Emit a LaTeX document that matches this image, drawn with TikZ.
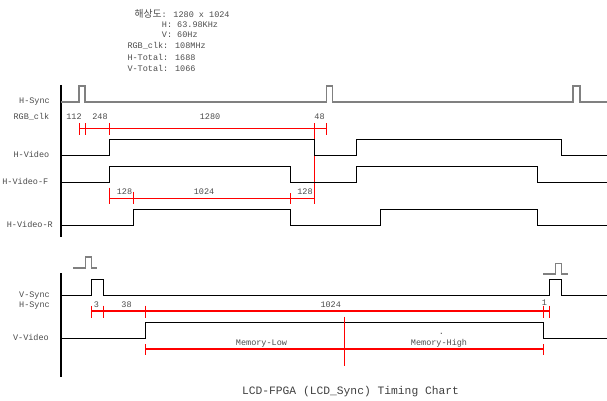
\documentclass[tikz,border=0pt]{standalone}
\usepackage{fontspec}
\newfontfamily\mono{Liberation Mono}
\newfontfamily\cjk{Noto Sans CJK KR}
\definecolor{mred}{RGB}{255,0,0}
\tikzset{
  sig/.style={line width=1pt, black},
  hsig/.style={line width=1.3pt, black!50},
  axis/.style={line width=1.4pt, black},
  meas/.style={color=mred, line width=1.1pt},
  lab/.style={font=\mono\fontsize{8.5}{10}\selectfont, text=black!70, inner sep=0pt},
  ttl/.style={font=\mono\fontsize{11.3}{13}\selectfont, text=black!75, inner sep=0pt}
}
\begin{document}
\begin{tikzpicture}[x=1pt,y=-1pt]
\useasboundingbox[fill=white] (0,0) rectangle (607,401);
% header
\node[lab,anchor=mid west] (hd1) at (134.3,15) {{\cjk\fontsize{9.8}{10}\selectfont 해상도}: 1280 x 1024};
\node[lab,anchor=mid west] (hd2) at (161.7,25) {H: 63.98KHz};
\node[lab,anchor=mid west] (hd3) at (161.7,35) {V: 60Hz};
\node[lab,anchor=mid west] (hd4) at (127.3,46.5) {RGB\_clk: 108MHz};
\node[lab,anchor=mid west] (hd5) at (127.3,58) {H-Total: 1688};
\node[lab,anchor=mid west] (hd6) at (127.3,69) {V-Total: 1066};
% upper labels
\node[lab,anchor=mid east] (l1) at (50,101.5) {H-Sync};
\node[lab,anchor=mid east] (l2) at (49.5,117) {RGB\_clk};
\node[lab,anchor=mid east] (l3) at (49.5,155) {H-Video};
\node[lab,anchor=mid east] (l4) at (48.5,182) {H-Video-F};
\node[lab,anchor=mid east] (l5) at (53,225) {H-Video-R};
% upper numbers
\node[lab,anchor=mid] (n1) at (74,117) {112};
\node[lab,anchor=mid] (n2) at (100,117) {248};
\node[lab,anchor=mid] (n3) at (210,117) {1280};
\node[lab,anchor=mid] (n4) at (319.5,117) {48};
\node[lab,anchor=mid] (n5) at (124.5,192) {128};
\node[lab,anchor=mid] (n6) at (204,192) {1024};
\node[lab,anchor=mid] (n7) at (305,192) {128};
% upper axis
\draw[axis] (61,85) -- (61,237);
% H-Sync
\draw[hsig] (61,102) -- (79,102) -- (79,86) -- (85,86) -- (85,102) -- (326.7,102) -- (326.7,86) -- (332.7,86) -- (332.7,102) -- (573,102) -- (573,86) -- (580,86) -- (580,102) -- (607,102);
% measure 1
\draw[meas] (79.3,128.7) -- (326.3,128.7);
\foreach \x in {79.3,85.5,109.5,326.3} \draw[meas] (\x,123) -- (\x,134.5);
\draw[meas] (314.5,123) -- (314.5,204);
% H-Video
\draw[sig] (61,155.5) -- (109.5,155.5) -- (109.5,139.7) -- (314.5,139.7) -- (314.5,155.5) -- (356.7,155.5) -- (356.7,139.7) -- (561.7,139.7) -- (561.7,155.5) -- (607,155.5);
% H-Video-F
\draw[sig] (61,182.3) -- (109.5,182.3) -- (109.5,166.7) -- (290.3,166.7) -- (290.3,182.3) -- (356.7,182.3) -- (356.7,166.7) -- (537.3,166.7) -- (537.3,182.3) -- (607,182.3);
% measure 2
\draw[meas] (109.5,198.3) -- (314.5,198.3);
\draw[meas] (109.5,187.5) -- (109.5,204);
\draw[meas] (133.7,191.5) -- (133.7,204);
\draw[meas] (290.3,193) -- (290.3,204);
% H-Video-R
\draw[sig] (61,225) -- (133.7,225) -- (133.7,209.3) -- (290.3,209.3) -- (290.3,225) -- (380.7,225) -- (380.7,209.3) -- (537.3,209.3) -- (537.3,225) -- (607,225);
% lower labels
\node[lab,anchor=mid east] (l6) at (50,295) {V-Sync};
\node[lab,anchor=mid east] (l7) at (50,305) {H-Sync};
\node[lab,anchor=mid east] (l8) at (49,338) {V-Video};
% lower numbers
\node[lab,anchor=mid] (m1) at (96.5,305) {3};
\node[lab,anchor=mid] (m2) at (126.5,305) {38};
\node[lab,anchor=mid] (m3) at (330.7,305) {1024};
\node[lab,anchor=mid] (m4) at (544.5,303) {1};
\node[lab,anchor=mid] (m5) at (261.5,343.5) {Memory-Low};
\node[lab,anchor=mid] (m6) at (439,343.5) {Memory-High};
\node[lab,anchor=base] (m7) at (441.3,334) {.};
% lower axis
\draw[axis] (61,273) -- (61,377);
% small pulses
\draw[hsig] (73,268) -- (85.3,268) -- (85.3,257) -- (91.3,257) -- (91.3,268) -- (97.3,268);
\draw[hsig] (543.3,274) -- (555.7,274) -- (555.7,263.3) -- (561.7,263.3) -- (561.7,274) -- (567.7,274);
% V-Sync
\draw[sig] (61,295) -- (91.5,295) -- (91.5,279.3) -- (103.3,279.3) -- (103.3,295) -- (549.3,295) -- (549.3,279.3) -- (561.7,279.3) -- (561.7,295) -- (607,295);
% measure 3
\draw[meas] (91.5,311) -- (549.5,311);
\foreach \x in {91.5,103.5,145.5,543.5,549.5} \draw[meas] (\x,305.5) -- (\x,317.5);
% V-Video
\draw[sig] (61,338.3) -- (145.5,338.3) -- (145.5,322.3) -- (543.3,322.3) -- (543.3,338.3) -- (607,338.3);
% measure 4
\draw[meas] (145.5,349) -- (543.5,349);
\foreach \x in {145.5,543.5} \draw[meas] (\x,344) -- (\x,355);
\draw[meas] (344.5,316.7) -- (344.5,365.7);
% title
\node[ttl,anchor=mid] (title) at (350.5,392.5) {LCD-FPGA (LCD\_Sync) Timing Chart};
\end{tikzpicture}
\end{document}
